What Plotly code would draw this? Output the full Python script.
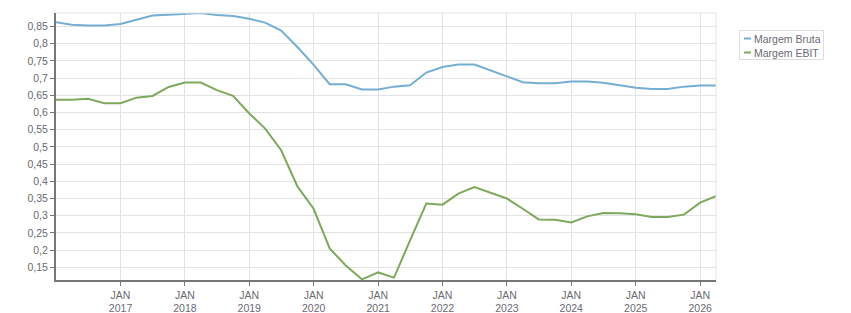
import plotly.graph_objects as go
import pandas as pd

# Quarterly dates from Jan 2016 to Apr 2026
dates = pd.date_range("2016-01-01", "2026-04-01", freq="QS").strftime("%Y-%m-%d").tolist()

margem_bruta = [
    0.862, 0.855, 0.853, 0.853,   # 2016
    0.857, 0.870, 0.882, 0.884,   # 2017
    0.887, 0.889, 0.883, 0.880,   # 2018
    0.872, 0.861, 0.838, 0.790,   # 2019
    0.738, 0.682, 0.682, 0.667,   # 2020
    0.667, 0.675, 0.679, 0.716,   # 2021
    0.732, 0.739, 0.739, 0.722,   # 2022
    0.704, 0.688, 0.685, 0.685,   # 2023
    0.690, 0.690, 0.686, 0.678,   # 2024
    0.672, 0.668, 0.668, 0.675,   # 2025
    0.678, 0.678,                 # 2026
]

margem_ebit = [
    0.637, 0.637, 0.640, 0.627,   # 2016
    0.627, 0.643, 0.648, 0.674,   # 2017
    0.687, 0.687, 0.665, 0.648,   # 2018
    0.597, 0.553, 0.490, 0.385,   # 2019
    0.320, 0.205, 0.155, 0.115,   # 2020
    0.135, 0.120, 0.228, 0.335,   # 2021
    0.332, 0.364, 0.383, 0.367,   # 2022
    0.350, 0.320, 0.289, 0.288,   # 2023
    0.280, 0.298, 0.308, 0.307,   # 2024
    0.304, 0.296, 0.296, 0.303,   # 2025
    0.338, 0.357,                 # 2026
]

series_names = ["Margem Bruta", "Margem EBIT"]
series_colors = ["#74afd3", "#7ea95c"]

tick_years = list(range(2017, 2027))
tick_vals = [f"{y}-01-01" for y in tick_years]
tick_text = [f"JAN<br>{y}" for y in tick_years]

y_ticks = [0.15, 0.2, 0.25, 0.3, 0.35, 0.4, 0.45, 0.5, 0.55, 0.6, 0.65, 0.7, 0.75, 0.8, 0.85]

FONT = "Liberation Sans"
TXT = "#6a6a72"

fig = go.Figure()
for name, vals, col in zip(series_names, [margem_bruta, margem_ebit], series_colors):
    fig.add_trace(go.Scatter(x=dates, y=vals, mode="lines", name=name,
                             line=dict(color=col, width=2), showlegend=False))

fig.update_layout(
    width=851, height=313,
    margin=dict(l=56, r=135, t=13, b=33),
    paper_bgcolor="white", plot_bgcolor="white",
    separators=",.",
    font=dict(family=FONT, size=10.5, color=TXT),
    xaxis=dict(
        range=[dates[0], dates[-1]],
        tickvals=tick_vals, ticktext=tick_text,
        showgrid=True, gridcolor="#e3e3e3", gridwidth=1,
        showline=True, linecolor="#777777", linewidth=2,
        ticks="outside", ticklen=4, tickcolor="#777777", tickwidth=1,
        zeroline=False, automargin=False,
    ),
    yaxis=dict(
        range=[0.113, 0.889],
        tickvals=y_ticks,
        tickformat=".2~f",
        showgrid=True, gridcolor="#e3e3e3", gridwidth=1,
        showline=True, linecolor="#777777", linewidth=2,
        ticks="outside", ticklen=4, tickcolor="#777777", tickwidth=1,
        zeroline=False, automargin=False,
    ),
)

# plot frame (top and right)
fig.add_shape(type="line", xref="paper", yref="paper", x0=0, x1=1, y0=1, y1=1,
              line=dict(color="#e3e3e3", width=1))
fig.add_shape(type="line", xref="paper", yref="paper", x0=1, x1=1, y0=0, y1=1,
              line=dict(color="#e3e3e3", width=1))

# custom legend
pw, ph = 660, 267
def px_x(px):
    return (px - 56) / pw
def px_y(py):
    return (280 - py) / ph

fig.add_shape(type="rect", xref="paper", yref="paper",
              x0=px_x(739.5), x1=px_x(823.5), y0=px_y(59.5), y1=px_y(30.5),
              line=dict(color="#dddddd", width=1), fillcolor="white")
for i, (name, col) in enumerate(zip(series_names, series_colors)):
    yy = 38.5 + i * 14
    fig.add_shape(type="line", xref="paper", yref="paper",
                  x0=px_x(744), x1=px_x(751), y0=px_y(yy), y1=px_y(yy),
                  line=dict(color=col, width=2))
    fig.add_annotation(xref="paper", yref="paper", x=px_x(752), y=px_y(yy),
                       text=name, showarrow=False, xanchor="left", yanchor="middle",
                       font=dict(family=FONT, size=10.5, color=TXT))

fig.write_html("out.html")
